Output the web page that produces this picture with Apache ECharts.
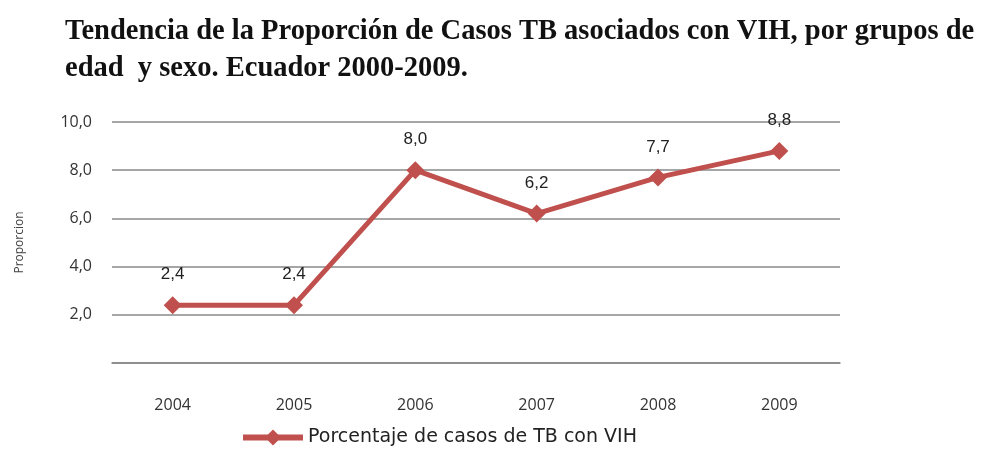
<!DOCTYPE html>
<html>
<head>
<meta charset="utf-8">
<script src="https://cdn.jsdelivr.net/npm/echarts@6/dist/echarts.min.js"></script>
<style>
html,body{margin:0;padding:0;background:#fff;}
#main{width:989px;height:450px;}
</style>
</head>
<body>
<div id="main"></div>
<script>
// datos
var anios=["2004","2005","2006","2007","2008","2009"];
var porcentaje=[2.4,2.4,8.0,6.2,7.7,8.8];
var serieNombre="Porcentaje de casos de TB con VIH";

function coma(v){
    return v.toFixed(1).replace(".",",");
}

var myChart=echarts.init(document.getElementById("main"));
var option={
    backgroundColor:"#fff",
    title:{
        text:"Tendencia de la Proporción de Casos TB asociados con VIH, por grupos de\nedad  y sexo. Ecuador 2000-2009.",
        left:60,
        top:8,
        textStyle:{
            fontFamily:"Liberation Serif",
            fontWeight:"bold",
            fontSize:28.5,
            lineHeight:37,
            color:"#111"
        }
    },
    legend:{
        data:[serieNombre],
        bottom:-2,
        left:235,
        itemWidth:60,
        itemHeight:20,
        lineStyle:{width:6},
        textStyle:{fontFamily:"DejaVu Sans",fontSize:19,color:"#222"}
    },
    grid:{left:112,right:149,top:122,bottom:87},
    xAxis:{
        type:"category",
        data:anios,
        axisLine:{lineStyle:{color:"#888",width:1.5}},
        axisTick:{show:false},
        axisLabel:{fontFamily:"Open Sans",fontSize:16,color:"#333",margin:34}
    },
    yAxis:{
        type:"value",
        min:0,
        max:10,
        interval:2,
        name:"Proporcion",
        nameLocation:"middle",
        nameGap:86,
        nameTextStyle:{fontFamily:"Open Sans",fontSize:12,color:"#444"},
        axisLine:{show:false},
        axisTick:{show:false},
        splitLine:{lineStyle:{color:"#888",width:1.5}},
        axisLabel:{
            fontFamily:"Open Sans",fontSize:16,color:"#333",margin:20,
            formatter:function(v){return v===0?"":coma(v);}
        }
    },
    series:[{
        name:serieNombre,
        type:"line",
        data:porcentaje,
        symbol:"diamond",
        symbolSize:18,
        lineStyle:{color:"#c0504d",width:5},
        itemStyle:{color:"#c0504d"},
        label:{
            show:true,
            position:"top",
            distance:13,
            fontFamily:"Liberation Sans Narrow, Liberation Sans",
            fontSize:17,
            color:"#222",
            formatter:function(p){return coma(p.value);}
        }
    }]
};
myChart.setOption(option);
</script>
</body>
</html>
